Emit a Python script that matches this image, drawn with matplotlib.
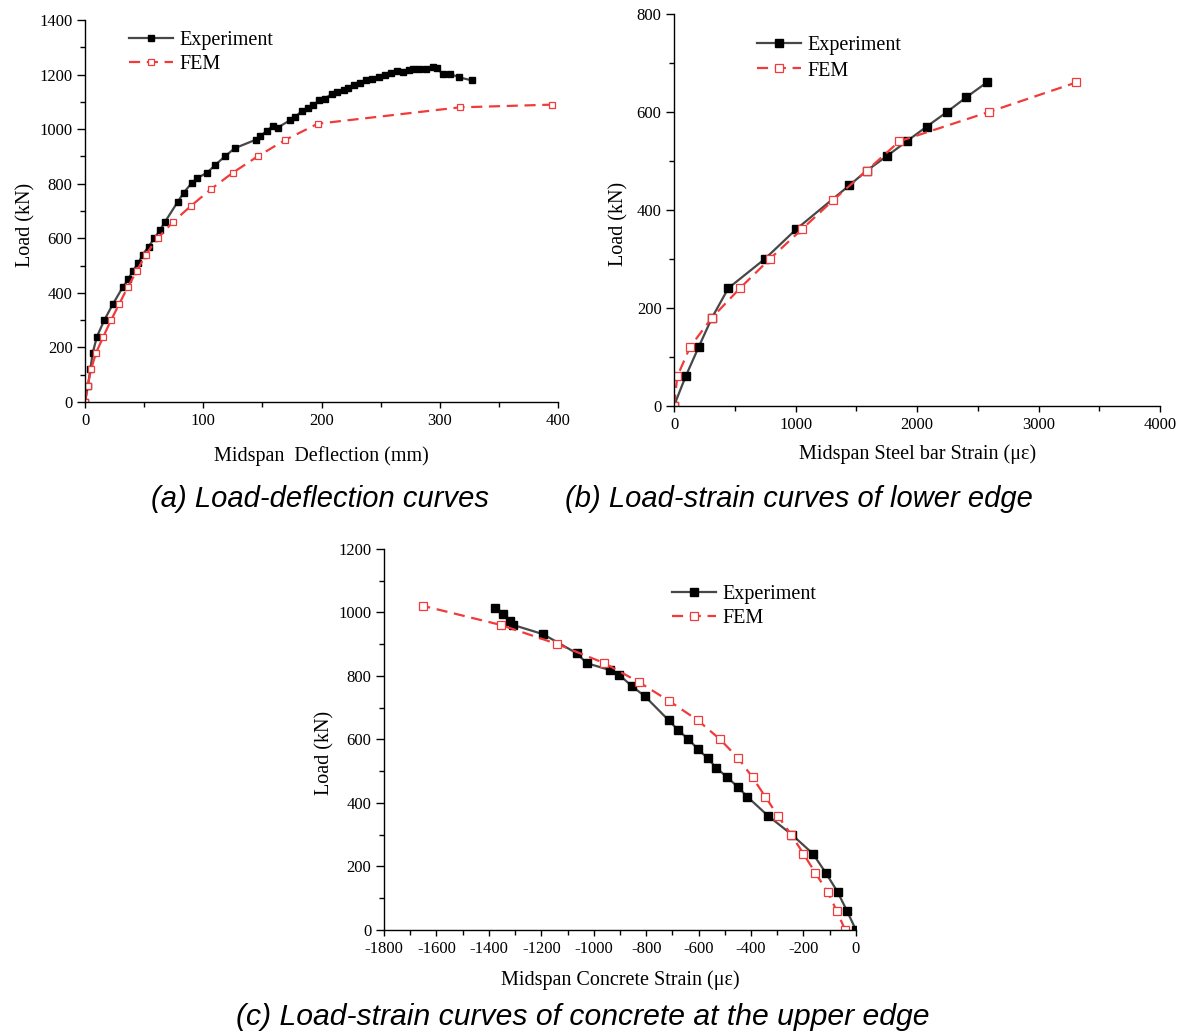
import numpy as np
import matplotlib.pyplot as plt
from matplotlib.ticker import MultipleLocator

# (a) load-deflection
a_exp_x = [0, 2.5, 4.5, 6.5, 10.1, 16.3, 23.7, 31.8, 36.6, 40.3, 45.1, 48.7, 53.8, 58.6, 63.4, 67.6,
           78.3, 83.4, 90.1, 94.6, 103.4, 110.1, 118.3, 126.5, 144.2, 148.2, 153.5, 158.6, 163.1,
           173.0, 178.0, 183.4, 188.5, 193.0, 198.0, 203.1, 208.5, 213.5, 219.2, 222.8, 227.6,
           232.7, 238.0, 242.5, 248.2, 253.8, 258.6, 264.2, 269.0, 274.1, 277.7, 282.5, 288.2,
           294.4, 297.5, 302.8, 308.7, 316.3, 327.0]
a_exp_y = [0, 60, 120, 180, 240, 300, 360, 420, 450, 480, 510, 540, 570, 600, 630, 660,
           733, 767, 802, 820, 841, 869, 900, 930, 961, 975, 993, 1011, 1006,
           1032, 1046, 1067, 1076, 1088, 1106, 1112, 1130, 1137, 1144, 1150, 1161,
           1171, 1179, 1183, 1192, 1198, 1205, 1212, 1210, 1218, 1220, 1220, 1220,
           1228, 1223, 1202, 1203, 1190, 1179]
a_fem_x = [0, 2.3, 5.1, 9.3, 15.5, 22.0, 29.0, 36.0, 43.7, 51.3, 61.4, 74.4, 89.9, 106.5,
           124.8, 145.9, 169.0, 196.9, 316.9, 395.2]
a_fem_y = [0, 60, 120, 180, 240, 300, 360, 420, 480, 540, 600, 660, 720, 780,
           840, 900, 960, 1020, 1080, 1090]

# (b) load-steel strain
b_exp_x = [0, 96, 203, 313, 447, 749, 1004, 1443, 1586, 1753, 1915, 2080, 2247, 2406, 2573]
b_exp_y = [0, 60, 120, 180, 240, 300, 360, 450, 480, 510, 540, 570, 600, 630, 660]
b_fem_x = [0, 27, 132, 313, 543, 790, 1051, 1311, 1586, 1855, 2593, 3309]
b_fem_y = [0, 60, 120, 180, 240, 300, 360, 420, 480, 540, 600, 660]

# (c) load-concrete strain
c_exp_x = [0, -34, -70, -115, -164, -244, -336, -415, -450, -490, -532, -565, -603, -639,
           -679, -714, -804, -855, -903, -938, -1027, -1065, -1193, -1307, -1320, -1347, -1377]
c_exp_y = [0, 60, 120, 180, 240, 300, 360, 420, 450, 480, 510, 540, 570, 600,
           630, 660, 735, 768, 803, 818, 840, 871, 931, 960, 974, 995, 1012]
c_fem_x = [-41, -73, -108, -155, -200, -247, -298, -346, -394, -448, -518, -603, -711,
           -827, -960, -1139, -1354, -1650]
c_fem_y = [0, 60, 120, 180, 240, 300, 360, 420, 480, 540, 600, 660, 720,
           780, 840, 900, 960, 1020]

plt.rcParams['font.family'] = ['Liberation Serif', 'DejaVu Serif']
plt.rcParams['axes.unicode_minus'] = False

EXP_COLOR = '#474747'
FEM_COLOR = '#f23a3a'


def draw_panel(ax, ex, ey, fx, fy, ms, xlabel, xpad, ylab_pos, legend_anchor, legend_gap):
    ax.plot(ex, ey, color=EXP_COLOR, lw=1.6, marker='s', ms=ms, mfc='black', mec='black',
            label='Experiment')
    ax.plot(fx, fy, color=FEM_COLOR, lw=1.6, dashes=(5, 3), marker='s', ms=ms,
            mfc='white', mec=FEM_COLOR, mew=0.9, label='FEM')
    for s in ['top', 'right']:
        ax.spines[s].set_visible(False)
    for s in ['left', 'bottom']:
        ax.spines[s].set_linewidth(1.0)
    ax.tick_params(axis='y', which='major', direction='out', length=6, width=1, pad=3, labelsize=12)
    ax.tick_params(axis='y', which='minor', direction='out', length=3.5, width=1)
    ax.tick_params(axis='x', which='major', direction='out', length=4, width=1, pad=4, labelsize=12)
    ax.tick_params(axis='x', which='minor', direction='out', length=3.5, width=1)
    ax.set_xlabel(xlabel, fontsize=14.5, labelpad=xpad)
    ax.set_ylabel('Load (kN)', fontsize=14.5)
    ax.yaxis.set_label_coords(*ylab_pos)
    ax.legend(loc='upper left', bbox_to_anchor=legend_anchor, frameon=False, fontsize=14.5,
              handlelength=2.2, handletextpad=0.3, labelspacing=legend_gap, borderaxespad=0,
              borderpad=0)


fig = plt.figure(figsize=(11.84, 10.33), dpi=100)

ax1 = fig.add_axes([0.0718, 0.6108, 0.3995, 0.3698])
draw_panel(ax1, a_exp_x, a_exp_y, a_fem_x, a_fem_y, 4.5, 'Midspan  Deflection (mm)', 12.3,
           (-0.1055, 0.463), (0.093, 0.971), 0.25)
ax1.set_xlim(0, 400)
ax1.set_ylim(0, 1400)
ax1.xaxis.set_major_locator(MultipleLocator(100))
ax1.xaxis.set_minor_locator(MultipleLocator(50))
ax1.yaxis.set_major_locator(MultipleLocator(200))
ax1.yaxis.set_minor_locator(MultipleLocator(100))

ax2 = fig.add_axes([0.5693, 0.6073, 0.4105, 0.3792])
draw_panel(ax2, b_exp_x, b_exp_y, b_fem_x, b_fem_y, 6, 'Midspan Steel bar Strain (με)', 8,
           (-0.0932, 0.465), (0.171, 0.943), 0.3)
ax2.set_xlim(0, 4000)
ax2.set_ylim(0, 800)
ax2.xaxis.set_major_locator(MultipleLocator(1000))
ax2.xaxis.set_minor_locator(MultipleLocator(500))
ax2.yaxis.set_major_locator(MultipleLocator(200))
ax2.yaxis.set_minor_locator(MultipleLocator(100))

ax3 = fig.add_axes([0.3243, 0.0997, 0.3986, 0.3691])
draw_panel(ax3, c_exp_x, c_exp_y, c_fem_x, c_fem_y, 6, 'Midspan Concrete Strain (με)', 9.5,
           (-0.1045, 0.464), (0.610, 0.906), 0.25)
ax3.set_xlim(-1800, 0)
ax3.set_ylim(0, 1200)
ax3.xaxis.set_major_locator(MultipleLocator(200))
ax3.xaxis.set_minor_locator(MultipleLocator(100))
ax3.yaxis.set_major_locator(MultipleLocator(200))
ax3.yaxis.set_minor_locator(MultipleLocator(100))

cap = dict(style='italic', family='Liberation Sans', ha='center', va='center')
fig.text(320 / 1184, 1 - 499 / 1033, '(a) Load-deflection curves', fontsize=21, **cap)
fig.text(799 / 1184, 1 - 499 / 1033, '(b) Load-strain curves of lower edge', fontsize=21, **cap)
fig.text(583 / 1184, 1 - 1017 / 1033, '(c) Load-strain curves of concrete at the upper edge',
         fontsize=21.7, **cap)

fig.savefig('out.png', dpi=100)
